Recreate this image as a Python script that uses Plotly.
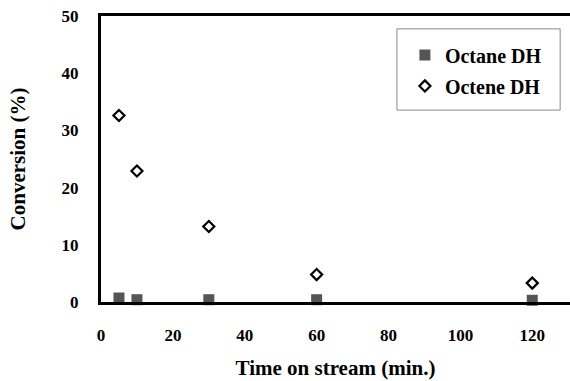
import plotly.graph_objects as go

time_min = [5, 10, 30, 60, 120]
octane_dh = [0.7, 0.4, 0.4, 0.4, 0.3]
octene_dh = [32.6, 22.9, 13.2, 4.8, 3.3]

x_ticks = [0, 20, 40, 60, 80, 100, 120]
y_ticks = [0, 10, 20, 30, 40, 50]

font_family = "Liberation Serif"

fig = go.Figure()
fig.add_trace(go.Scatter(
    x=time_min, y=octane_dh, mode="markers", name="<b>Octane DH</b>",
    legendgroup="a",
    marker=dict(symbol="square", size=11, color="#555555", line=dict(width=0)),
    cliponaxis=False,
))
fig.add_trace(go.Scatter(
    x=time_min, y=octene_dh, mode="markers", name="<b>Octene DH</b>",
    legendgroup="b",
    marker=dict(symbol="diamond-open", size=8.5, color="black", line=dict(width=2.2)),
    cliponaxis=False,
))

# legend frame
fig.add_shape(type="rect", xref="paper", yref="paper",
              x0=0.631, x1=0.979, y0=0.671, y1=0.955,
              line=dict(color="#888888", width=1), fillcolor="rgba(0,0,0,0)")

fig.update_layout(
    width=570, height=381,
    margin=dict(l=101, r=0, t=16, b=79),
    paper_bgcolor="white", plot_bgcolor="white",
    font=dict(family=font_family, size=15, color="black"),
    showlegend=True,
    legend=dict(
        x=0.648, y=0.932, xanchor="left", yanchor="top",
        borderwidth=0, bgcolor="rgba(0,0,0,0)",
        font=dict(family=font_family, size=20, color="black"),
        tracegroupgap=2, itemwidth=30,
    ),
    xaxis=dict(
        range=[0, 130.5], tickvals=x_ticks, ticktext=[f"<b>{v}</b>" for v in x_ticks],
        showgrid=False, zeroline=False, showline=True, linecolor="black", linewidth=3,
        mirror=True, ticks="", ticklen=0, automargin=False, ticklabelstandoff=16,
        title=dict(text="<b>Time on stream (min.)</b>", font=dict(size=21), standoff=16),
        tickfont=dict(size=17),
    ),
    yaxis=dict(
        range=[0, 50], tickvals=y_ticks, ticktext=[f"<b>{v}</b>" for v in y_ticks],
        showgrid=False, zeroline=False, showline=True, linecolor="black", linewidth=3,
        mirror=False, ticks="", ticklen=0, automargin=False, ticklabelstandoff=16,
        title=dict(text="<b>Conversion (%)</b>", font=dict(size=21), standoff=31),
        tickfont=dict(size=17),
    ),
)

fig.write_html("out.html", config={"displayModeBar": False},
               post_script="document.body.style.margin='0';document.body.style.overflow='hidden';")
